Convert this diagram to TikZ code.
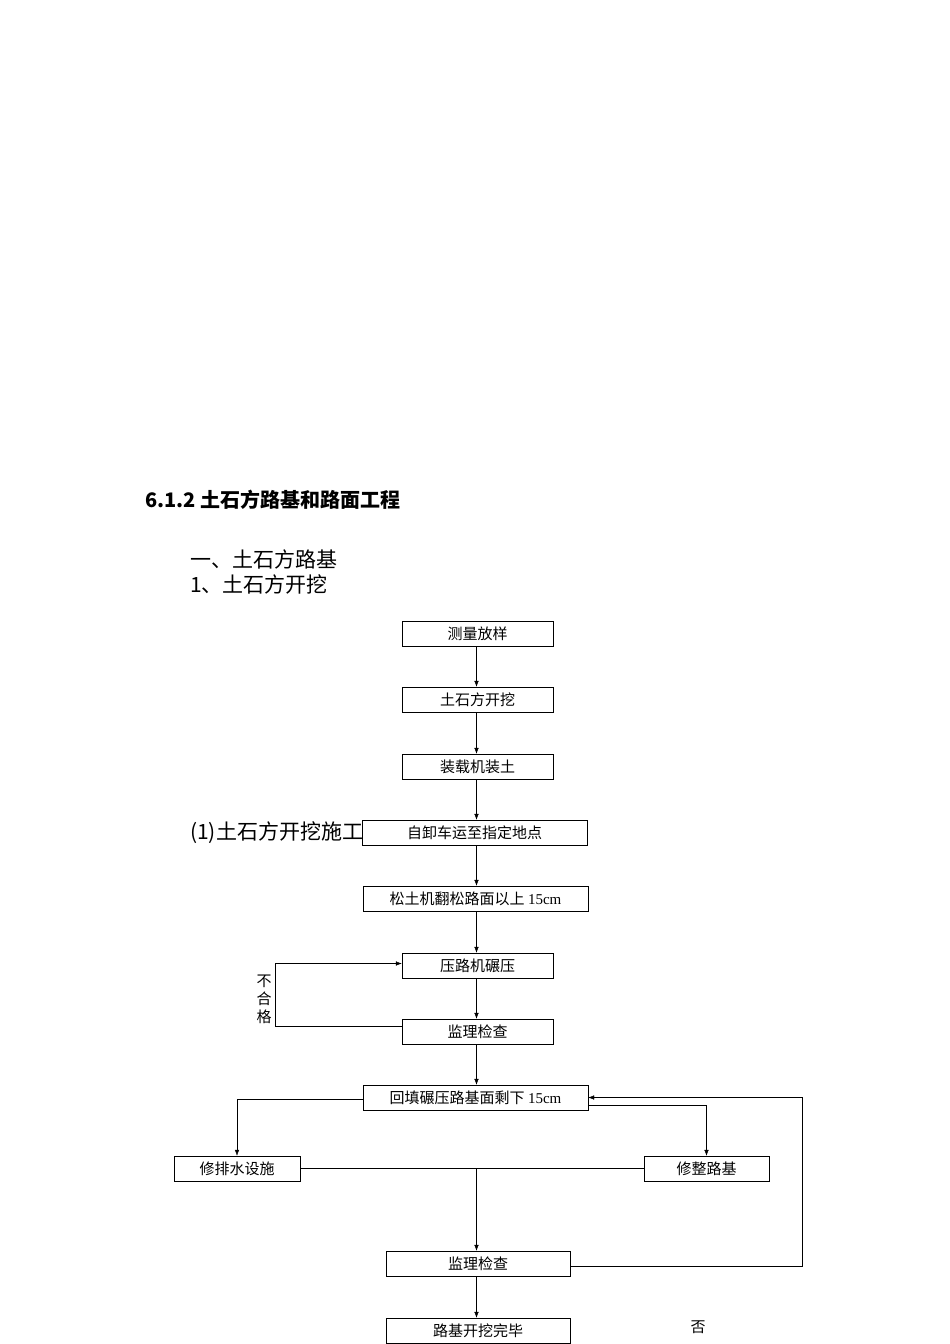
\documentclass[tikz,border=0pt]{standalone}
\usepackage{fontspec}
\setmainfont{Liberation Serif}
\newfontfamily\cjk{Noto Sans CJK SC}
\usetikzlibrary{positioning}
\usetikzlibrary{arrows.meta}
\begin{document}
\begin{tikzpicture}[x=1pt,y=-1pt,>={Latex[length=6pt,width=4.5pt]},
passo/.style={draw,fill=white,minimum height=25pt,inner sep=0pt,font=\cjk\fontsize{15}{17}\selectfont},
titolo/.style={anchor=west,inner sep=0pt,font=\cjk\fontsize{21}{24}\selectfont}
]
\useasboundingbox (0,0) rectangle (950,1344);
\node[titolo,font=\cjk\bfseries\fontsize{20}{24}\selectfont](t0) at (145,500){6.1.2 土石方路基和路面工程};
\node[titolo](t1) at (190,559){一、土石方路基};
\node[titolo](t2) at (190,584){1、土石方开挖};
\node[titolo](t3) at (190,833){(1)土石方开挖施工};
%--
\node[passo,minimum width=151pt](a) at (477.5,633.5){测量放样};
\node[passo,minimum width=151pt](b) at (477.5,699.5){土石方开挖};
\node[passo,minimum width=151pt](c) at (477.5,766.5){装载机装土};
\node[passo,minimum width=225pt](d) at (474.5,832.5){自卸车运至指定地点};
\node[passo,minimum width=225pt](e) at (475.5,898.5){松土机翻松路面以上 {\rmfamily 15cm}};
\node[passo,minimum width=151pt](f) at (477.5,965.5){压路机碾压};
\node[passo,minimum width=151pt](g) at (477.5,1031.5){监理检查};
\node[passo,minimum width=225pt](h) at (475.5,1097.5){回填碾压路基面剩下 {\rmfamily 15cm}};
\node[passo,minimum width=126pt](i) at (237,1168.5){修排水设施};
\node[passo,minimum width=125pt](j) at (706.5,1168.5){修整路基};
\node[passo,minimum width=184pt](k) at (478,1263.5){监理检查};
\node[passo,minimum width=184pt](l) at (478,1330.5){路基开挖完毕};
\node[font=\cjk\fontsize{15}{17}\selectfont](no) at (698,1327){否};
\node[font=\cjk\fontsize{15}{17}\selectfont,align=center,inner sep=0pt,text width=15pt](nc) at (264,999){不\\[1pt]合\\[1pt]格};
%--
\coordinate (asse) at (476.5,0);
\draw [->] (a.south -| asse) -- (b.north -| asse);
\draw [->] (b.south -| asse) -- (c.north -| asse);
\draw [->] (c.south -| asse) -- (d.north -| asse);
\draw [->] (d.south -| asse) -- (e.north -| asse);
\draw [->] (e.south -| asse) -- (f.north -| asse);
\draw [->] (f.south -| asse) -- (g.north -| asse);
\draw [->] (g.south -| asse) -- (h.north -| asse);
\draw [->] ([yshift=5pt]g.west) -- ++(-127,0) |- ([yshift=2pt]f.west);
%--
\draw [->] ([yshift=-2pt]h.west) -| (i.north);
\draw [->] ([yshift=-8pt]h.east) -| (j.north);
\draw (i.east) -- (j.west);
\coordinate (m) at (476.5,1168.5);
\draw [->] (m) -- (k.north -| m);
\draw [->] (k.south -| m) -- (l.north -| m);
\draw [->] ([yshift=-3pt]k.east) -- ++(232,0) |- (h.east);
\end{tikzpicture}
\end{document}
